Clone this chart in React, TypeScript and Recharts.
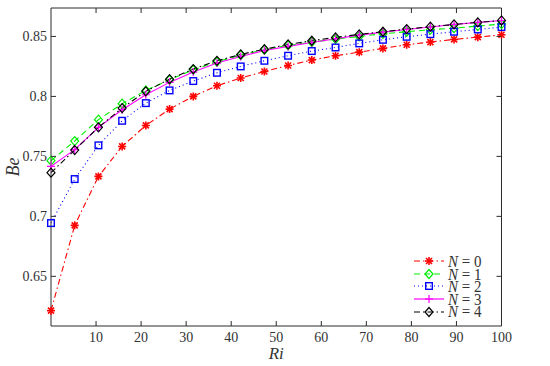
import { LineChart, Line, XAxis, YAxis, Legend } from "recharts";

// Ri values (20 evenly spaced samples)
const ri = [0, 5.26, 10.53, 15.79, 21.05, 26.32, 31.58, 36.84, 42.11, 47.37, 52.63, 57.89, 63.16, 68.42, 73.68, 78.95, 84.21, 89.47, 94.74, 100];

const beN0 = [0.6214, 0.6925, 0.7333, 0.7583, 0.7758, 0.7894, 0.8, 0.8089, 0.8153, 0.8208, 0.8258, 0.8303, 0.8339, 0.8369, 0.84, 0.8431, 0.8453, 0.8475, 0.8494, 0.8514];
const beN1 = [0.7464, 0.7628, 0.7806, 0.7939, 0.805, 0.8139, 0.8222, 0.8289, 0.8344, 0.8389, 0.8425, 0.8453, 0.8478, 0.85, 0.8522, 0.8539, 0.8556, 0.8569, 0.8586, 0.8603];
const beN2 = [0.6944, 0.7311, 0.7592, 0.7797, 0.7944, 0.805, 0.8128, 0.8197, 0.825, 0.8297, 0.8339, 0.8378, 0.8408, 0.8442, 0.8472, 0.8497, 0.8519, 0.8539, 0.8558, 0.8578];
const beN3 = [0.7417, 0.7556, 0.7742, 0.7889, 0.8014, 0.8117, 0.8203, 0.8278, 0.8333, 0.8383, 0.8417, 0.845, 0.8481, 0.8511, 0.8536, 0.8558, 0.8578, 0.86, 0.8617, 0.8633];
const beN4 = [0.7364, 0.7553, 0.7742, 0.7903, 0.8042, 0.8144, 0.8228, 0.8297, 0.835, 0.8394, 0.8433, 0.8464, 0.8492, 0.8517, 0.8539, 0.8561, 0.8581, 0.86, 0.8617, 0.8633];

const xTicks = [10, 20, 30, 40, 50, 60, 70, 80, 90, 100];
const yTicks = [0.65, 0.7, 0.75, 0.8, 0.85];
const nLabels = ["0", "1", "2", "3", "4"];

const rows = ri.map((x, i) => ({
  ri: x,
  n0: beN0[i],
  n1: beN1[i],
  n2: beN2[i],
  n3: beN3[i],
  n4: beN4[i],
}));

const SERIF = "Times New Roman, Liberation Serif, DejaVu Serif, Tinos, serif";
const AXIS = "#2b2b2b";

type Marker = "star" | "diamond" | "square" | "plus";

const series: { key: string; color: string; dash?: string; marker: Marker }[] = [
  { key: "n0", color: "#ff0000", dash: "6 3 1.5 3", marker: "star" },
  { key: "n1", color: "#00ee00", dash: "6 4", marker: "diamond" },
  { key: "n2", color: "#0000ff", dash: "1 3", marker: "square" },
  { key: "n3", color: "#ff00ff", marker: "plus" },
  { key: "n4", color: "#000000", dash: "6 3 1.5 3", marker: "diamond" },
];

function drawMarker(m: Marker, cx: number, cy: number, color: string, key?: string) {
  if (m === "star") {
    return (
      <g key={key} stroke={color} strokeWidth={1.6}>
        <line x1={cx - 4} y1={cy} x2={cx + 4} y2={cy} />
        <line x1={cx} y1={cy - 4} x2={cx} y2={cy + 4} />
        <line x1={cx - 3} y1={cy - 3} x2={cx + 3} y2={cy + 3} />
        <line x1={cx - 3} y1={cy + 3} x2={cx + 3} y2={cy - 3} />
      </g>
    );
  }
  if (m === "diamond") {
    return (
      <path
        key={key}
        d={`M${cx},${cy - 4.5}L${cx + 4},${cy}L${cx},${cy + 4.5}L${cx - 4},${cy}Z`}
        fill="none"
        stroke={color}
        strokeWidth={1.2}
      />
    );
  }
  if (m === "square") {
    return (
      <rect key={key} x={cx - 3.3} y={cy - 3.3} width={6.6} height={6.6} fill="none" stroke={color} strokeWidth={1.4} />
    );
  }
  return (
    <g key={key} stroke={color} strokeWidth={1.2}>
      <line x1={cx - 4} y1={cy} x2={cx + 4} y2={cy} />
      <line x1={cx} y1={cy - 4} x2={cx} y2={cy + 4} />
    </g>
  );
}

const BottomTick = (p: any) => (
  <g>
    <line x1={p.x} x2={p.x} y1={p.y} y2={p.y - 5} stroke={AXIS} />
    <text x={p.x} y={p.y + 16} textAnchor="middle" fontFamily={SERIF} fontSize={14} fill="#333">
      {p.payload.value}
    </text>
  </g>
);

const TopTick = (p: any) => <line x1={p.x} x2={p.x} y1={p.y} y2={p.y + 5} stroke={AXIS} />;

const LeftTick = (p: any) => (
  <g>
    <line x1={p.x} x2={p.x + 5} y1={p.y} y2={p.y} stroke={AXIS} />
    <text x={p.x - 4} y={p.y + 5} textAnchor="end" fontFamily={SERIF} fontSize={14} fill="#333">
      {p.payload.value}
    </text>
  </g>
);

const RightTick = (p: any) => <line x1={p.x} x2={p.x - 5} y1={p.y} y2={p.y} stroke={AXIS} />;

const LegendBox = () => (
  <div style={{ fontFamily: SERIF, color: "#333" }}>
    {series.map((s, i) => (
      <div key={s.key} style={{ display: "flex", alignItems: "center", height: 12.6, lineHeight: "12.6px" }}>
        <svg width={34} height={12} style={{ overflow: "visible" }}>
          <line x1={1} x2={31} y1={6} y2={6} stroke={s.color} strokeDasharray={s.dash} strokeWidth={1.2} />
          {drawMarker(s.marker, 16, 6, s.color)}
        </svg>
        <span style={{ fontSize: 15, marginLeft: 1, whiteSpace: "nowrap", display: "inline-block", transform: "scaleY(1.15)" }}>
          <i>N</i> = {nLabels[i]}
        </span>
      </div>
    ))}
  </div>
);

export default function App() {
  return (
    <div style={{ position: "absolute", left: 0, top: 0 }}>
      <LineChart width={550} height={366} data={rows} margin={{ top: 0, right: 0, bottom: 0, left: 0 }}>
        <XAxis
          dataKey="ri"
          type="number"
          domain={[0, 100]}
          ticks={xTicks}
          height={40}
          tickSize={0}
          tickMargin={0}
          tickLine={false}
          tick={BottomTick}
          axisLine={{ stroke: AXIS }}
          label={(props: any) => {
            const vb = props.viewBox;
            return (
              <text x={vb.x + vb.width / 2} y={vb.y + 33} textAnchor="middle" fontFamily={SERIF} fontStyle="italic" fontSize={17} fill="#333">
                Ri
              </text>
            );
          }}
        />
        <XAxis
          xAxisId="top"
          dataKey="ri"
          type="number"
          orientation="top"
          domain={[0, 100]}
          ticks={xTicks}
          height={8}
          tickSize={0}
          tickMargin={0}
          tickLine={false}
          tick={TopTick}
          axisLine={{ stroke: AXIS }}
        />
        <YAxis
          type="number"
          domain={[0.6086, 0.8737]}
          ticks={yTicks}
          allowDataOverflow
          width={51}
          tickSize={0}
          tickMargin={0}
          tickLine={false}
          tick={LeftTick}
          axisLine={{ stroke: AXIS }}
          label={(props: any) => {
            const vb = props.viewBox;
            const cy = vb.y + vb.height / 2;
            return (
              <text x={vb.x + 19} y={cy} transform={`rotate(-90 ${vb.x + 19} ${cy})`} textAnchor="middle" fontFamily={SERIF} fontStyle="italic" fontSize={18} fill="#333">
                Be
              </text>
            );
          }}
        />
        <YAxis
          yAxisId="right"
          orientation="right"
          type="number"
          domain={[0.6086, 0.8737]}
          ticks={yTicks}
          allowDataOverflow
          width={48.5}
          tickSize={0}
          tickMargin={0}
          tickLine={false}
          tick={RightTick}
          axisLine={{ stroke: AXIS }}
        />
        <Legend
          layout="vertical"
          align="center"
          verticalAlign="middle"
          content={<LegendBox />}
          wrapperStyle={{ left: 413, top: 255, width: 90, height: 66 }}
        />
        {series.map((s) => (
          <Line
            key={s.key}
            dataKey={s.key}
            stroke={s.color}
            strokeWidth={1.1}
            strokeDasharray={s.dash}
            isAnimationActive={false}
            dot={(p: any) => drawMarker(s.marker, p.cx, p.cy, s.color, `${s.key}-${p.index}`)}
            activeDot={false}
          />
        ))}
      </LineChart>
    </div>
  );
}
